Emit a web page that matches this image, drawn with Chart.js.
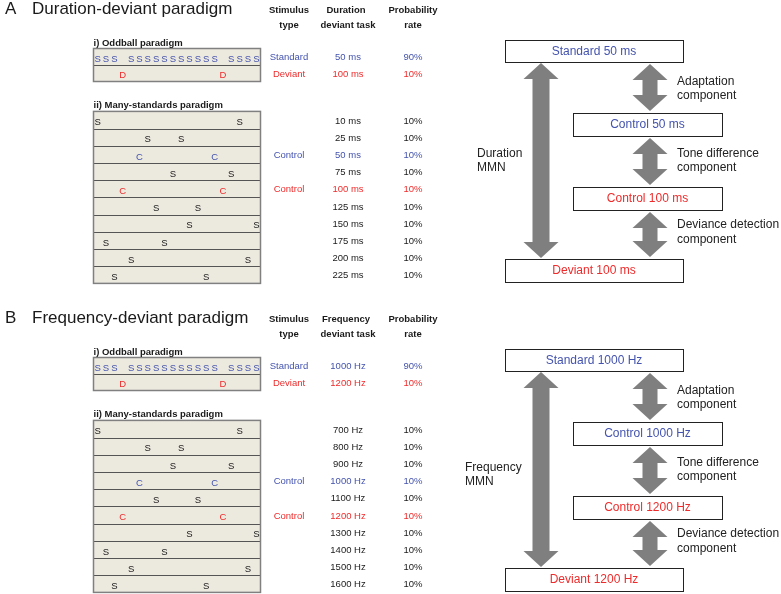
<!DOCTYPE html>
<html>
<head>
<meta charset="utf-8">
<script src="https://cdn.jsdelivr.net/npm/chart.js@4.4.0/dist/chart.umd.min.js"></script>
<style>
  html, body { margin: 0; padding: 0; background: #fff; }
  #wrap { position: relative; width: 781px; height: 594px; }
</style>
</head>
<body>
<div id="wrap"><canvas id="chart"></canvas></div>
<script>
// --- data ---------------------------------------------------------------
// a block of 20 trials; numbers are the trial slot of each tone
const oddballStandardTrials = [0, 1, 2, 4, 5, 6, 7, 8, 9, 10, 11, 12, 13, 14, 16, 17, 18, 19];
const oddballDeviantTrials = [3, 15];
const oddballTypes = ['Standard', 'Deviant'];
const oddballRates = ['90%', '10%'];

const durationOddball = ['50 ms', '100 ms'];
const durationSteps = ['10 ms', '25 ms', '50 ms', '75 ms', '100 ms', '125 ms', '150 ms', '175 ms', '200 ms', '225 ms'];
const durationTrials = [[0, 17], [6, 10], [5, 14], [9, 16], [3, 15], [7, 12], [11, 19], [1, 8], [4, 18], [2, 13]];

const frequencyOddball = ['1000 Hz', '1200 Hz'];
const frequencySteps = ['700 Hz', '800 Hz', '900 Hz', '1000 Hz', '1100 Hz', '1200 Hz', '1300 Hz', '1400 Hz', '1500 Hz', '1600 Hz'];
const frequencyTrials = [[0, 17], [6, 10], [9, 16], [5, 14], [7, 12], [3, 15], [11, 19], [1, 8], [4, 18], [2, 13]];

const manyRates = ['10%', '10%', '10%', '10%', '10%', '10%', '10%', '10%', '10%', '10%'];

// --- look ---------------------------------------------------------------
const W = 781, H = 594;
const BLUE = '#4453ad';
const RED = '#ee2b2b';
const INK = '#1a1a1a';
const FONT = "'Liberation Sans', Arial, sans-serif";
const seqLeft = 93.5, seqRight = 260.5, nTrials = 20;
const colType = 289, colValue = 348, colRate = 413;

const panels = [
    { key: 'A', shift: 0, title: 'Duration-deviant paradigm', task: 'Duration', unitName: 'Duration',
      oddball: durationOddball, steps: durationSteps, trials: durationTrials, mmnX: 477, mmnY: 154 },
    { key: 'B', shift: 309, title: 'Frequency-deviant paradigm', task: 'Frequency', unitName: 'Frequency',
      oddball: frequencyOddball, steps: frequencySteps, trials: frequencyTrials, mmnX: 465, mmnY: 159 }
];

function rowAxis(firstPx, pitch) {
    return { type: 'linear', display: false, reverse: true,
             min: -firstPx / pitch, max: (H - firstPx) / pitch };
}
function trialAxis() {
    const slot = (seqRight - seqLeft) / nTrials;
    const min = -0.5 - seqLeft / slot;
    return { type: 'linear', display: false, min: min, max: min + W / slot };
}

const scales = {
    x: { type: 'linear', display: false, min: 0, max: W },
    y: { type: 'linear', display: false, min: 0, max: H, reverse: true },
    trial: Object.assign({ axis: 'x' }, trialAxis())
};
panels.forEach(p => {
    scales['odd' + p.key] = Object.assign({ axis: 'y' }, rowAxis(56.75 + p.shift, 16.5));
    scales['many' + p.key] = Object.assign({ axis: 'y' }, rowAxis(120 + p.shift, 17.2));
});

const datasets = [];
panels.forEach(p => {
    const standard = p.oddball[0], deviant = p.oddball[1];
    const blueRow = p.steps.indexOf(standard);
    const redRow = p.steps.indexOf(deviant);
    const plain = [], blueC = [], redC = [];
    p.trials.forEach((pair, r) => {
        pair.forEach(t => {
            const pt = { x: t, y: r };
            if (r === blueRow) blueC.push(pt);
            else if (r === redRow) redC.push(pt);
            else plain.push(pt);
        });
    });
    const base = { xAxisID: 'trial', pointRadius: 0, pointHoverRadius: 0 };
    datasets.push(Object.assign({ label: p.key + ' oddball standard', letter: 'S', color: BLUE, yAxisID: 'odd' + p.key,
        data: oddballStandardTrials.map(t => ({ x: t, y: 0 })) }, base));
    datasets.push(Object.assign({ label: p.key + ' oddball deviant', letter: 'D', color: RED, yAxisID: 'odd' + p.key,
        data: oddballDeviantTrials.map(t => ({ x: t, y: 1 })) }, base));
    datasets.push(Object.assign({ label: p.key + ' many standards', letter: 'S', color: INK, yAxisID: 'many' + p.key, data: plain }, base));
    datasets.push(Object.assign({ label: p.key + ' control std', letter: 'C', color: BLUE, yAxisID: 'many' + p.key, data: blueC }, base));
    datasets.push(Object.assign({ label: p.key + ' control dev', letter: 'C', color: RED, yAxisID: 'many' + p.key, data: redC }, base));
});

function text(ctx, s, x, y, font, color, align) {
    ctx.font = font;
    ctx.fillStyle = color;
    ctx.textAlign = align || 'center';
    ctx.textBaseline = 'middle';
    ctx.fillText(s, x, y);
}

function doubleArrow(ctx, cx, y1, y2, shaftW, headW, headL) {
    ctx.beginPath();
    ctx.moveTo(cx, y1);
    ctx.lineTo(cx + headW / 2, y1 + headL);
    ctx.lineTo(cx + shaftW / 2, y1 + headL);
    ctx.lineTo(cx + shaftW / 2, y2 - headL);
    ctx.lineTo(cx + headW / 2, y2 - headL);
    ctx.lineTo(cx, y2);
    ctx.lineTo(cx - headW / 2, y2 - headL);
    ctx.lineTo(cx - shaftW / 2, y2 - headL);
    ctx.lineTo(cx - shaftW / 2, y1 + headL);
    ctx.lineTo(cx - headW / 2, y1 + headL);
    ctx.closePath();
    ctx.fillStyle = '#7f7f7f';
    ctx.fill();
}

// boxes behind the stimulus letters
const sequenceBoxes = {
    id: 'sequenceBoxes',
    beforeDatasetsDraw(chart) {
        const ctx = chart.ctx, sx = chart.scales.x;
        const x1 = sx.getPixelForValue(seqLeft), x2 = sx.getPixelForValue(seqRight);
        ctx.save();
        panels.forEach(p => {
            [['odd' + p.key, 2], ['many' + p.key, p.steps.length]].forEach(([id, n]) => {
                const ax = chart.scales[id];
                const top = ax.getPixelForValue(-0.5), bot = ax.getPixelForValue(n - 0.5);
                ctx.fillStyle = '#ece9df';
                ctx.fillRect(x1, top, x2 - x1, bot - top);
                ctx.strokeStyle = '#555';
                ctx.lineWidth = 1;
                for (let r = 0; r < n - 1; r++) {
                    const y = Math.round(ax.getPixelForValue(r + 0.5)) + 0.5;
                    ctx.beginPath(); ctx.moveTo(x1, y); ctx.lineTo(x2, y); ctx.stroke();
                }
                ctx.strokeStyle = '#808080';
                ctx.lineWidth = 1.5;
                ctx.strokeRect(x1, top, x2 - x1, bot - top);
            });
        });
        ctx.restore();
    },
    afterDatasetsDraw(chart) {
        const ctx = chart.ctx;
        ctx.save();
        chart.data.datasets.forEach((ds, i) => {
            chart.getDatasetMeta(i).data.forEach(pt => {
                text(ctx, ds.letter, pt.x, pt.y + 2.5, '9.5px ' + FONT, ds.color);
            });
        });
        ctx.restore();
    }
};

// titles, table columns and the MMN component diagram
const annotations = {
    id: 'annotations',
    afterDraw(chart) {
        const ctx = chart.ctx;
        const px = v => chart.scales.x.getPixelForValue(v);
        ctx.save();
        panels.forEach(p => {
            const py = v => chart.scales.y.getPixelForValue(v + p.shift);
            const bold = 'bold 9.5px ' + FONT, reg = '9.5px ' + FONT, big = '17px ' + FONT;
            text(ctx, p.key, px(5), py(9), big, INK, 'left');
            text(ctx, p.title, px(32), py(9), big, INK, 'left');
            text(ctx, 'Stimulus', px(colType), py(10), bold, INK);
            text(ctx, 'type', px(colType), py(25), bold, INK);
            text(ctx, p.task, px(colValue - 2), py(10), bold, INK);
            text(ctx, 'deviant task', px(colValue), py(25), bold, INK);
            text(ctx, 'Probability', px(colRate), py(10), bold, INK);
            text(ctx, 'rate', px(colRate), py(25), bold, INK);
            text(ctx, 'i) Oddball paradigm', px(seqLeft), py(43), bold, INK, 'left');
            text(ctx, 'ii) Many-standards paradigm', px(seqLeft), py(105), bold, INK, 'left');

            const odd = chart.scales['odd' + p.key];
            [BLUE, RED].forEach((c, r) => {
                const y = odd.getPixelForValue(r) + 1;
                text(ctx, oddballTypes[r], px(colType), y, reg, c);
                text(ctx, p.oddball[r], px(colValue), y, reg, c);
                text(ctx, oddballRates[r], px(colRate), y, reg, c);
            });
            const many = chart.scales['many' + p.key];
            p.steps.forEach((s, r) => {
                const y = many.getPixelForValue(r) + 1;
                let c = INK;
                if (s === p.oddball[0]) c = BLUE;
                if (s === p.oddball[1]) c = RED;
                if (c !== INK) text(ctx, 'Control', px(colType), y, reg, c);
                text(ctx, s, px(colValue), y, reg, c);
                text(ctx, manyRates[r], px(colRate), y, reg, c);
            });

            // component diagram
            const boxes = [
                [505, 683, 40, 62, 'Standard ' + p.oddball[0], BLUE],
                [573, 722, 113, 136, 'Control ' + p.oddball[0], BLUE],
                [573, 722, 187, 210, 'Control ' + p.oddball[1], RED],
                [505, 683, 259, 282, 'Deviant ' + p.oddball[1], RED]
            ];
            boxes.forEach(([x1, x2, y1, y2, label, c]) => {
                ctx.fillStyle = '#fff';
                ctx.fillRect(px(x1), py(y1), px(x2) - px(x1), py(y2) - py(y1));
                ctx.strokeStyle = '#222';
                ctx.lineWidth = 1;
                ctx.strokeRect(Math.round(px(x1)) + 0.5, Math.round(py(y1)) + 0.5,
                    Math.round(px(x2) - px(x1)), Math.round(py(y2) - py(y1)));
                text(ctx, label, (px(x1) + px(x2)) / 2, (py(y1) + py(y2)) / 2 + 0.5, '12px ' + FONT, c);
            });
            doubleArrow(ctx, px(541), py(63), py(258), 17, 35, 16);
            [[64, 111], [138, 185], [212, 257]].forEach(([a, b]) => {
                doubleArrow(ctx, px(650), py(a), py(b), 15, 35, 16);
            });
            const mid = '12px ' + FONT;
            [['Adaptation', 82], ['component', 96], ['Tone difference', 154], ['component', 168],
             ['Deviance detection', 225], ['component', 240]].forEach(([s, y]) => {
                text(ctx, s, px(677), py(y), mid, '#222', 'left');
            });
            text(ctx, p.unitName, px(p.mmnX), py(p.mmnY), mid, '#222', 'left');
            text(ctx, 'MMN', px(p.mmnX), py(p.mmnY + 14), mid, '#222', 'left');
        });
        ctx.restore();
    }
};

new Chart(document.getElementById('chart'), {
    type: 'scatter',
    data: { datasets: datasets },
    options: {
        responsive: true,
        maintainAspectRatio: false,
        animation: false,
        events: [],
        layout: { padding: 0 },
        scales: scales,
        plugins: { legend: { display: false }, tooltip: { enabled: false } }
    },
    plugins: [sequenceBoxes, annotations]
});
</script>
</body>
</html>
